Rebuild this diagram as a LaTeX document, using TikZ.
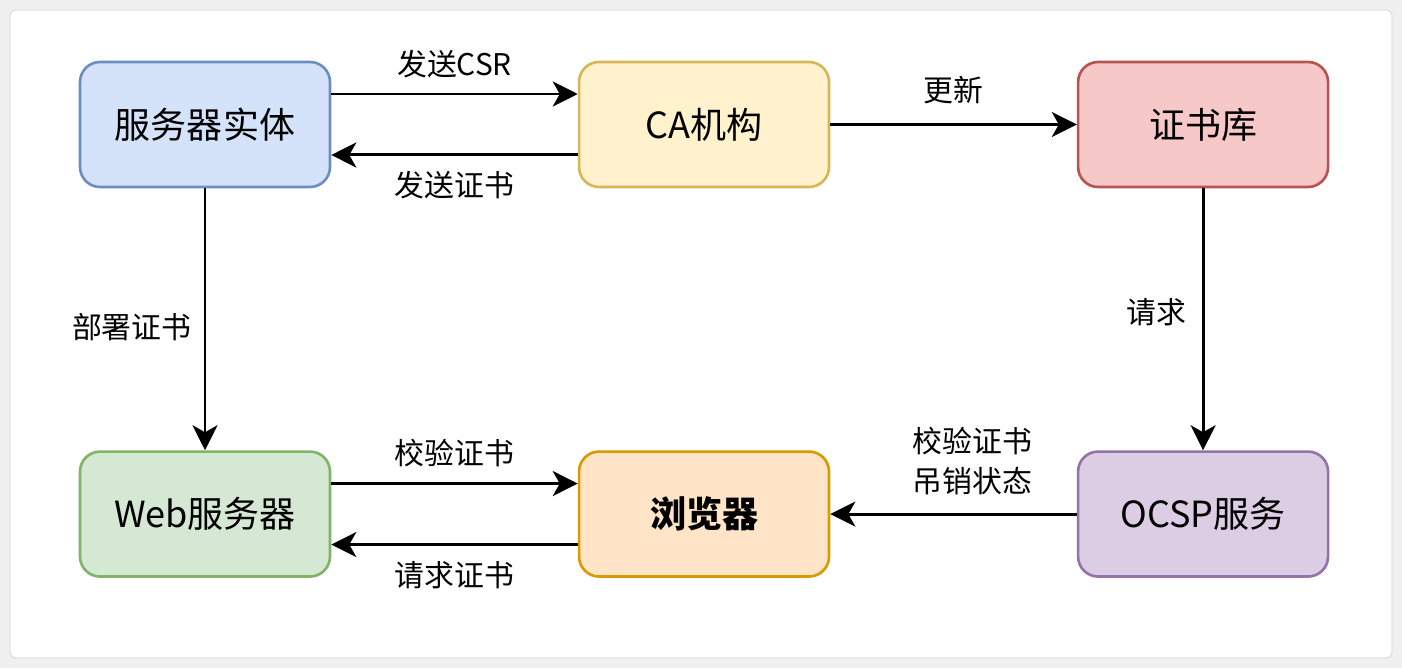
\documentclass[tikz,border=0pt]{standalone}
\usepackage{fontspec}
\setmainfont{Noto Sans CJK SC}
\usepackage{xcolor}
\usetikzlibrary{arrows.meta}
\usetikzlibrary{positioning}
\definecolor{srvfill}{HTML}{D4E3FA}
\definecolor{srvline}{HTML}{6C8EBF}
\definecolor{cafill}{HTML}{FFF2CC}
\definecolor{caline}{HTML}{D6B656}
\definecolor{storefill}{HTML}{F6C8C8}
\definecolor{storeline}{HTML}{B85450}
\definecolor{webfill}{HTML}{D5E8D4}
\definecolor{webline}{HTML}{82B366}
\definecolor{brfill}{HTML}{FFE4C8}
\definecolor{brline}{HTML}{D79B00}
\definecolor{ocspfill}{HTML}{DDCDE4}
\definecolor{ocspline}{HTML}{9673A6}

\begin{document}
\begin{tikzpicture}[x=0.02cm, y=-0.02cm,
    box/.style={rounded corners=0.4cm, line width=1.5pt, minimum width=5cm, minimum height=2.5cm,
        font=\fontsize{20.5}{24}\selectfont},
    link/.style={line width=1.7pt, -{Stealth[length=0.5cm, width=0.5cm, inset=0.14cm]}},
    tag/.style={font=\fontsize{17}{22.7}\selectfont, inner sep=0pt}]
    \fill[black!6] (0,0) rectangle (1402,668);
    \draw[black!18, fill=white, rounded corners=0.12cm] (10,10) rectangle (1392,658);
    % top row
    \node (srv) [box, draw=srvline, fill=srvfill] at (205,124.5) {服务器实体};
    \node (ca) [box, draw=caline, fill=cafill, right=4.93cm of srv] {CA机构};
    \node (store) [box, draw=storeline, fill=storefill, right=4.93cm of ca] {证书库};
    % bottom row
    \node (web) [box, draw=webline, fill=webfill, below=5.24cm of srv] {Web服务器};
    \node (browser) [box, draw=brline, fill=brfill, below=5.24cm of ca, font=\fontsize{20.5}{24}\selectfont\bfseries] {浏览器};
    \node (ocsp) [box, draw=ocspline, fill=ocspfill, below=5.24cm of store] {OCSP服务};
    % links
    \draw[link] ([yshift=0.61cm]srv.east) -- node[tag, above=0.3cm] {发送CSR} ([yshift=0.61cm]ca.west);
    \draw[link] ([yshift=-0.61cm]ca.west) -- node[tag, below=0.3cm] {发送证书} ([yshift=-0.61cm]srv.east);
    \draw[link] (ca) -- node[tag, above=0.38cm] {更新} (store);
    \draw[link] (srv) -- node[tag, left=0.24cm, yshift=-0.15cm] {部署证书} (web);
    \draw[link] (store) -- node[tag, left=0.3cm, yshift=0.15cm] {请求} (ocsp);
    \draw[link] ([yshift=0.61cm]web.east) -- node[tag, above=0.3cm] {校验证书} ([yshift=0.61cm]browser.west);
    \draw[link] ([yshift=-0.61cm]browser.west) -- node[tag, below=0.3cm] {请求证书} ([yshift=-0.61cm]web.east);
    \draw[link] (ocsp) -- node[tag, above=0.36cm, xshift=0.38cm, align=center] {校验证书\\吊销状态} (browser);
\end{tikzpicture}
\end{document}
